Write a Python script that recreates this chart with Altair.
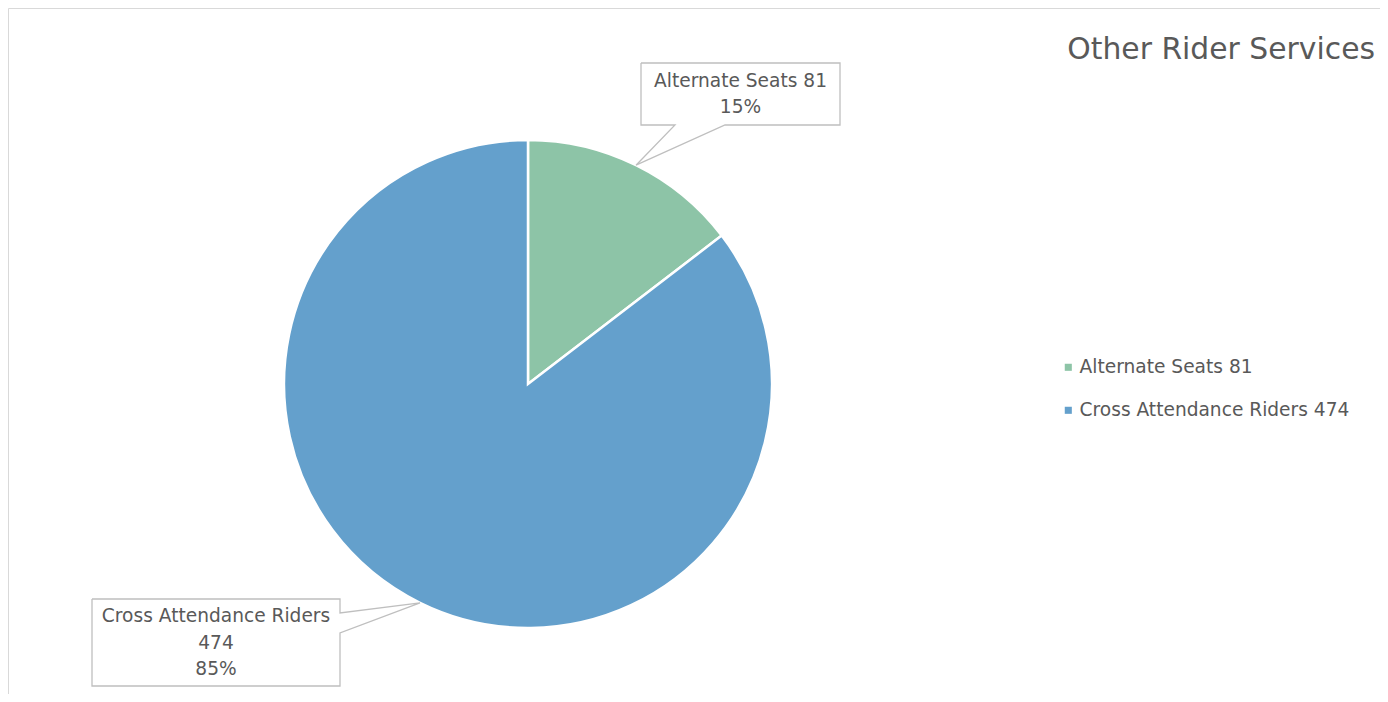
import math
import altair as alt
import pandas as pd

# ---- data ----
categories = ["Alternate Seats", "Cross Attendance Riders"]
values = [81, 474]
colors = ["#8DC4A7", "#64A0CC"]
title_text = "Other Rider Services"

FONT = "DejaVu Sans"
TEXT_COLOR = "#595959"
BOX_COLOR = "#BFBFBF"
LABEL_SIZE = 18.6
LINE_H = 26.5

W, H = 1372, 686
CX, CY, R = 520, 376, 244

total = sum(values)
legend_labels = [f"{c} {v}" for c, v in zip(categories, values)]
pcts = [round(v / total * 100) for v in values]

pie_df = pd.DataFrame({"label": legend_labels, "value": values, "idx": list(range(len(values)))})

# tips of callouts: slice mid-angles on the pie edge
tips = []
cum = 0
for v in values:
    mid = (cum + v / 2) / total * 2 * math.pi
    tips.append((CX + R * math.sin(mid), CY - R * math.cos(mid)))
    cum += v

# callout layout (box left, top, right, bottom, attachment side)
boxes = [
    dict(l=633, t=55, r=832, b=117, side="bottom", a1=667, a2=717),
    dict(l=84, t=591, r=332, b=678, side="right", a1=605, a2=625),
]
label_lines = [
    [f"{categories[0]} {values[0]}", f"{pcts[0]}%"],
    [categories[1], f"{values[1]}", f"{pcts[1]}%"],
]

outline_rows = []
box_rows = []
text_rows = []
for i, (bx, (tx, ty)) in enumerate(zip(boxes, tips)):
    l, t, r, b = bx["l"], bx["t"], bx["r"], bx["b"]
    if bx["side"] == "bottom":
        pts = [(l, t), (r, t), (r, b), (bx["a2"], b), (tx, ty), (bx["a1"], b), (l, b), (l, t)]
    else:
        pts = [(l, t), (r, t), (r, bx["a1"]), (tx, ty), (r, bx["a2"]), (r, b), (l, b), (l, t)]
    for k, (px, py) in enumerate(pts):
        outline_rows.append({"box": i, "k": k, "px": px, "py": py})
    box_rows.append({"box": i, "l": l, "t": t, "r": r, "b": b})
    n = len(label_lines[i])
    for j, line in enumerate(label_lines[i]):
        text_rows.append({
            "box": i, "cx": (l + r) / 2,
            "cy": (t + b) / 2 + (j - (n - 1) / 2) * LINE_H,
            "txt": line,
        })

outline_df = pd.DataFrame(outline_rows)
box_df = pd.DataFrame(box_rows)
text_df = pd.DataFrame(text_rows)

pie = alt.Chart(pie_df).mark_arc(radius=R, stroke="white", strokeWidth=2.5).encode(
    theta=alt.Theta("value:Q", stack=True),
    order=alt.Order("idx:Q"),
    color=alt.Color(
        "label:N",
        scale=alt.Scale(domain=legend_labels, range=colors),
        sort=legend_labels,
        legend=alt.Legend(
            orient="none", legendX=1051, legendY=350, title=None,
            symbolType="square", symbolSize=50, symbolStrokeWidth=0,
            labelFont=FONT, labelFontSize=LABEL_SIZE, labelColor=TEXT_COLOR,
            labelOffset=2, rowPadding=24, padding=0, labelLimit=500,
        ),
    ),
    x=alt.value(CX),
    y=alt.value(CY),
)

box_bg = alt.Chart(box_df).mark_rect(fill="white", stroke=None).encode(
    x=alt.X("l:Q", scale=None), x2="r:Q",
    y=alt.Y("t:Q", scale=None), y2="b:Q",
)

outline = alt.Chart(outline_df).mark_line(color=BOX_COLOR, strokeWidth=1.3).encode(
    x=alt.X("px:Q", scale=None),
    y=alt.Y("py:Q", scale=None),
    detail="box:N",
    order="k:Q",
)

texts = alt.Chart(text_df).mark_text(
    font=FONT, fontSize=LABEL_SIZE, color=TEXT_COLOR,
    align="center", baseline="middle",
).encode(
    x=alt.X("cx:Q", scale=None),
    y=alt.Y("cy:Q", scale=None),
    text="txt:N",
)

title = alt.Chart(pd.DataFrame({"t": [title_text]})).mark_text(
    font=FONT, fontSize=29.8, color=TEXT_COLOR, align="right", baseline="alphabetic",
).encode(x=alt.value(1367), y=alt.value(51), text="t:N")

chart = alt.layer(pie, box_bg, outline, texts, title).properties(
    width=W, height=H, padding=0, autosize=alt.AutoSizeParams(type="none"),
).configure_view(stroke="#D9D9D9", strokeWidth=1)

chart.save("out.html", embed_options={"renderer": "svg", "actions": False})
